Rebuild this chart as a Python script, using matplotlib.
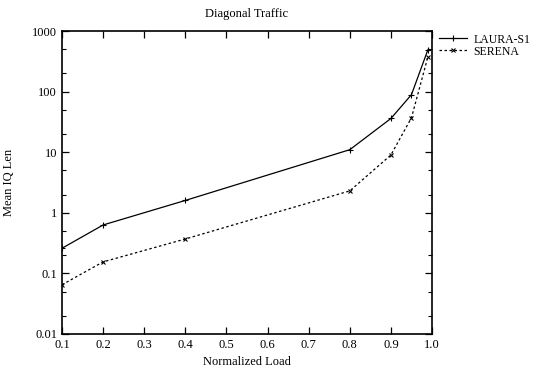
import matplotlib
matplotlib.use("Agg")
import matplotlib.pyplot as plt
from matplotlib.ticker import LogLocator, NullFormatter

plt.rcParams['font.family'] = ['Liberation Serif', 'DejaVu Serif']

# data
load = [0.1, 0.2, 0.4, 0.8, 0.9, 0.95, 0.99]
laura = [0.26, 0.63, 1.6, 11, 36, 89, 490]
serena = [0.065, 0.155, 0.37, 2.3, 9, 37, 375]
xticks = [0.1, 0.2, 0.3, 0.4, 0.5, 0.6, 0.7, 0.8, 0.9, 1.0]
yticks = [0.01, 0.1, 1, 10, 100, 1000]
ylabels = ['0.01', '0.1', '1', '10', '100', '1000']

fig = plt.figure(figsize=(5.36, 3.70), dpi=100)
ax = fig.add_axes([0.1157, 0.0973, 0.6903, 0.8189])

ax.plot(load, laura, color='black', lw=0.9, marker='+', ms=5, mew=0.8, label='LAURA-S1')
ax.plot(load, serena, color='black', lw=0.9, ls=(0, (2, 2)), marker='x', ms=3.5, mew=0.8, label='SERENA')

ax.set_yscale('log')
ax.set_xlim(0.1, 1.0)
ax.set_ylim(0.01, 1000)
ax.set_xticks(xticks)
ax.set_xticklabels(['%.1f' % v for v in xticks])
ax.set_yticks(yticks)
ax.set_yticklabels(ylabels)
ax.yaxis.set_minor_locator(LogLocator(base=10, subs=(2, 5)))
ax.yaxis.set_minor_formatter(NullFormatter())

ax.tick_params(which='both', direction='in', top=True, right=True, labelsize=9)
ax.tick_params(which='major', length=5, width=0.9)
ax.tick_params(which='minor', length=3, width=0.8)
for s in ax.spines.values():
    s.set_linewidth(1.2)

ax.set_title('Diagonal Traffic', fontsize=9, pad=10)
ax.set_xlabel('Normalized Load', fontsize=9, labelpad=4)
ax.set_ylabel('Mean IQ Len', fontsize=9, labelpad=12)

ax.legend(loc='upper left', bbox_to_anchor=(1.0, 1.015), frameon=False, fontsize=8.5,
          handlelength=2.4, handletextpad=0.5, labelspacing=0.0, borderaxespad=0.2)

plt.savefig('out.png', dpi=100)
